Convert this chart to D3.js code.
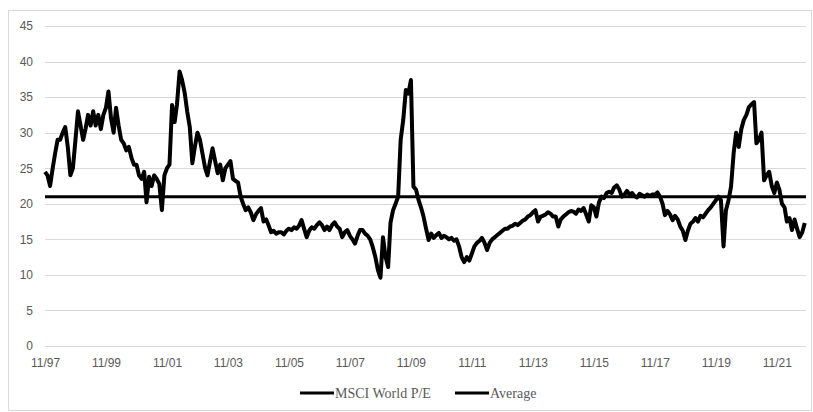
<!DOCTYPE html>
<html>
<head>
<meta charset="utf-8">
<script src="https://cdn.jsdelivr.net/npm/d3@7"></script>
<style>
  body { margin: 0; background: #fff; }
</style>
</head>
<body>
<script>
// monthly P/E readings, Nov 1997 .. Oct 2022
const peValues = [
  24.5, 24, 22.5, 25, 27, 29, 29, 30, 30.8, 28, 24, 25,
  29, 33, 31, 29, 30.5, 32.5, 31, 33, 31, 32.5, 30.5, 32.5,
  33.5, 35.8, 32, 30, 33.5, 31, 29, 28.5, 27.5, 28, 26.5, 25.5,
  25.5, 24, 23.5, 24.5, 20.2, 23.8, 22.5, 24, 23.5, 22.8, 19.1, 24,
  25, 25.5, 33.9, 31.5, 34, 38.6, 37.4, 35.6, 33, 30.8, 25.7, 28,
  30, 29, 27, 25, 24, 26, 27.8, 26, 24.3, 25.5, 23.3, 25,
  25.5, 26, 23.5, 23.2, 23, 21, 20, 19.1, 19.5, 18.8, 17.7, 18.5,
  19, 19.4, 17.5, 17.8, 17, 16, 16.2, 15.8, 16, 16, 15.7, 16.2,
  16.5, 16.3, 16.7, 16.5, 16.9, 17.7, 16.5, 15.3, 16.2, 16.7, 16.5, 17,
  17.4, 17, 16.3, 16.8, 16.3, 17, 17.4, 16.8, 16.5, 15.3, 16, 16.3,
  15.5, 15, 14.4, 15.5, 16.3, 16.3, 15.8, 15.5, 15, 13.9, 12.5, 10.7,
  9.6, 15.3, 12.5, 11.1, 17.3, 19.1, 20, 21, 29, 31.8, 36, 35.5,
  37.4, 22.4, 22, 20.5, 19.5, 18.2, 16.5, 14.9, 15.8, 15.2, 15.6, 15.9,
  15.2, 15.5, 15.3, 15, 15.2, 14.8, 15, 14, 12.5, 11.8, 12.5, 12,
  13, 14, 14.5, 14.8, 15.2, 14.5, 13.5, 14.5, 15, 15.3, 15.6, 15.9,
  16.2, 16.5, 16.5, 16.8, 16.9, 17.2, 17, 17.3, 17.6, 17.8, 18.2, 18.4,
  18.8, 19.1, 17.5, 18.2, 18.3, 18.5, 18.8, 18.6, 18.2, 18.2, 16.8, 17.8,
  18.2, 18.5, 18.8, 19, 18.9, 18.6, 19.2, 19, 19.4, 18.5, 17.5, 19.8,
  19.5, 18.2, 20.2, 21, 20.8, 21.5, 21.7, 21.5, 22.3, 22.6, 22, 21,
  21.3, 21.8, 21.3, 21.5, 21.1, 20.9, 21.4, 21.2, 21, 21.3, 21.1, 21.3,
  21.3, 21.6, 21, 20, 18.4, 19, 18.5, 17.7, 18.3, 17.8, 16.8, 16.2,
  14.9, 16.2, 17.2, 17.5, 18, 17.5, 18.3, 18.1, 18.6, 19.1, 19.5, 20,
  20.5, 21, 20.5, 14, 19.1, 20.5, 22.4, 27.1, 30, 28, 30.5, 31.8,
  32.5, 33.6, 34, 34.3, 28.5, 29, 30, 23.3, 24, 24.5, 22.5, 21.5,
  23, 22, 20, 19.5, 17.5, 18, 16.3, 17.8, 16.5, 15.3, 16, 17.3
];
const averagePE = 21;

const startMonth = new Date(1997, 10, 1);
const months = d3.timeMonth.range(startMonth, d3.timeMonth.offset(startMonth, peValues.length));

const yTicks = [0, 5, 10, 15, 20, 25, 30, 35, 40, 45];
const xTickLabels = ["11/97", "11/99", "11/01", "11/03", "11/05", "11/07", "11/09", "11/11", "11/13", "11/15", "11/17", "11/19", "11/21"];
const seriesNames = ["MSCI World P/E", "Average"];

const data = months.map((m, i) => ({date: m, pe: peValues[i]}));

const W = 813, H = 412;
const margin = {top: 26, right: 5, bottom: 66, left: 45},
width = W - margin.left - margin.right,
height = H - margin.top - margin.bottom;

const svg0 = d3.select("body")
.append("svg")
.attr("width", W)
.attr("height", H)
.style("font-family", "'Liberation Sans', Arial, sans-serif");

// chart frame
svg0.append("rect")
.attr("x", 8.5).attr("y", 10.5)
.attr("width", 803).attr("height", 400)
.attr("fill", "none")
.attr("stroke", "#d9d9d9");

const svg = svg0.append("g")
.attr("transform", `translate(${margin.left},${margin.top})`);

const tickDates = xTickLabels.map(s => d3.timeParse("%m/%y")(s));
const monthW = 2.541;

const x = d3.scaleTime()
.domain([months[0], months[months.length - 1]])
.range([0, monthW * (months.length - 1)]);

const y = d3.scaleLinear()
.domain([0, 45])
.range([height, 0]);

// gridlines
svg.append("g")
.selectAll("line")
.data(yTicks)
.join("line")
.attr("x1", 0)
.attr("x2", width - 2)
.attr("y1", d => Math.round(y(d)) + 0.5)
.attr("y2", d => Math.round(y(d)) + 0.5)
.attr("stroke", "#d9d9d9")
.attr("stroke-width", 1);

// y axis labels
svg.append("g")
.call(d3.axisLeft(y).tickValues(yTicks).tickSize(0).tickPadding(12))
.call(g => g.select(".domain").remove())
.call(g => g.selectAll("text")
  .attr("fill", "#595959")
  .style("font-size", "12px")
  .style("font-family", "'Liberation Sans', Arial, sans-serif"));

// x axis labels
svg.append("g")
.attr("transform", `translate(0,${height})`)
.call(d3.axisBottom(x).tickValues(tickDates).tickFormat(d3.timeFormat("%m/%y")).tickSize(0).tickPadding(12))
.call(g => g.select(".domain").remove())
.call(g => g.selectAll("text")
  .attr("fill", "#595959")
  .style("font-size", "12px")
  .style("font-family", "'Liberation Sans', Arial, sans-serif"));

// P/E line
const line = d3.line()
.x(d => x(d.date))
.y(d => y(d.pe));

svg.append("path")
.datum(data)
.attr("fill", "none")
.attr("stroke", "#000")
.attr("stroke-width", 4)
.attr("stroke-linejoin", "round")
.attr("d", line);

// average line
svg.append("line")
.attr("x1", 0)
.attr("x2", width - 2)
.attr("y1", y(averagePE))
.attr("y2", y(averagePE))
.attr("stroke", "#000")
.attr("stroke-width", 3);

// legend
const legend = svg0.append("g")
.attr("transform", "translate(0,393)");

const legendX = [300, 455];
seriesNames.forEach((name, i) => {
  legend.append("line")
  .attr("x1", legendX[i]).attr("x2", legendX[i] + 34)
  .attr("y1", 0).attr("y2", 0)
  .attr("stroke", "#000")
  .attr("stroke-width", 3);
  legend.append("text")
  .attr("x", legendX[i] + 35)
  .attr("y", 5)
  .attr("fill", "#595959")
  .style("font-family", "'Liberation Serif', 'Times New Roman', serif")
  .style("font-size", "14px")
  .text(name);
});
</script>
</body>
</html>
